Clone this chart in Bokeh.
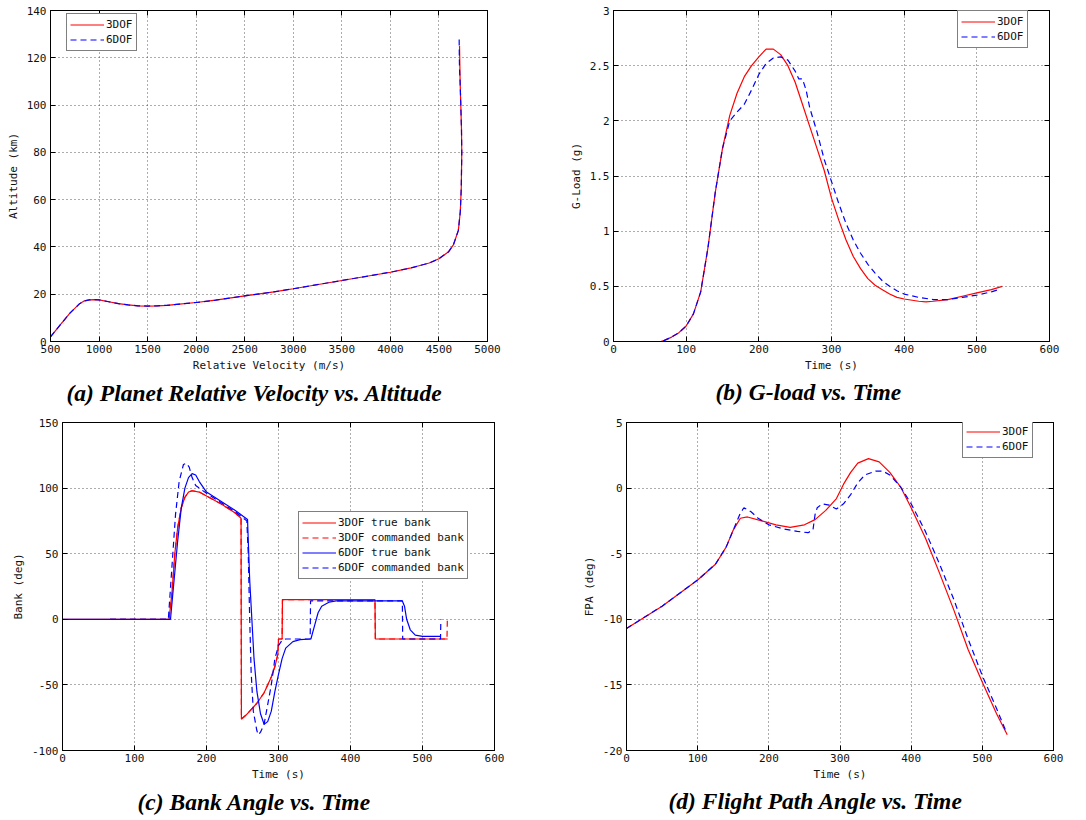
from bokeh.plotting import figure
from bokeh.models import Range1d, FixedTicker, LinearAxis, CustomJSTickFormatter
from bokeh.layouts import column, row
from bokeh.embed import file_html
from bokeh.resources import INLINE

# ---------------- data ----------------
# (a) Planet relative velocity vs altitude
vel_3dof = [500, 600, 700, 800, 850, 900, 950, 1000, 1100, 1200, 1300, 1400, 1500, 1600, 1700, 1800,
            2000, 2200, 2500, 2800, 3000, 3500, 4000, 4200, 4400, 4500, 4600, 4650, 4700, 4720, 4730,
            4735, 4732, 4725, 4718, 4712]
alt_3dof = [2, 7, 12, 16, 17.2, 17.6, 17.7, 17.6, 16.8, 16.0, 15.5, 15.1, 15.0, 15.1, 15.3, 15.7,
            16.5, 17.5, 19.3, 21.0, 22.3, 25.8, 29.3, 31.0, 33.2, 35.0, 38.0, 41.0, 47.0, 55.0, 65.0,
            80.0, 90.0, 100.0, 110.0, 125.0]
vel_6dof = [500, 600, 700, 800, 850, 900, 950, 1000, 1100, 1200, 1300, 1400, 1500, 1600, 1700, 1800,
            2000, 2200, 2500, 2800, 3000, 3500, 4000, 4200, 4400, 4500, 4600, 4650, 4700, 4720, 4730,
            4735, 4732, 4725, 4718, 4712, 4710, 4708]
alt_6dof = [2, 7, 12, 16, 17.2, 17.6, 17.7, 17.6, 16.8, 16.0, 15.5, 15.1, 15.0, 15.1, 15.3, 15.7,
            16.5, 17.5, 19.3, 21.0, 22.3, 25.8, 29.3, 31.0, 33.2, 35.0, 38.0, 41.0, 47.0, 55.0, 65.0,
            80.0, 90.0, 100.0, 110.0, 115.0, 120.0, 129.0]

# (b) G-load vs time
t_g3 = [0, 65, 70, 80, 90, 100, 110, 120, 130, 140, 150, 160, 170, 180, 190, 200, 210, 220, 230, 240,
        250, 260, 270, 280, 290, 300, 310, 320, 330, 340, 350, 360, 370, 380, 390, 400, 420, 430, 440,
        460, 480, 500, 520, 535]
g_3dof = [0, 0, 0.01, 0.04, 0.08, 0.14, 0.25, 0.45, 0.85, 1.35, 1.75, 2.05, 2.25, 2.4, 2.5, 2.58, 2.65,
          2.65, 2.6, 2.5, 2.35, 2.15, 1.95, 1.75, 1.55, 1.3, 1.1, 0.92, 0.77, 0.66, 0.57, 0.51, 0.47,
          0.43, 0.4, 0.385, 0.365, 0.36, 0.365, 0.38, 0.41, 0.44, 0.47, 0.5]
t_g6 = [0, 65, 70, 80, 90, 100, 110, 120, 130, 140, 150, 160, 170, 180, 190, 200, 210, 220, 230, 240,
        250, 255, 260, 265, 270, 280, 290, 300, 310, 320, 330, 340, 350, 360, 370, 380, 390, 400, 420,
        440, 460, 480, 500, 520, 530]
g_6dof = [0, 0, 0.01, 0.04, 0.08, 0.14, 0.25, 0.45, 0.85, 1.35, 1.75, 2.0, 2.08, 2.15, 2.28, 2.42, 2.52,
          2.57, 2.58, 2.55, 2.45, 2.38, 2.38, 2.28, 2.12, 1.9, 1.65, 1.45, 1.25, 1.07, 0.92, 0.8, 0.7,
          0.62, 0.55, 0.5, 0.46, 0.43, 0.4, 0.38, 0.38, 0.4, 0.42, 0.45, 0.47]

# (c) Bank angle vs time
t_b3_true = [0, 148, 152, 156, 160, 165, 170, 175, 180, 190, 200, 220, 240, 248, 248.5, 255, 260, 270,
             280, 290, 295, 299, 300, 305, 305.5, 434, 434.5, 535]
b_3dof_true = [0, 0, 20, 50, 70, 85, 93, 97, 98, 97, 94, 88, 81, 77, -76, -73, -70, -64, -56, -44, -36,
               -27, -15, -15, 15, 15, -15, -15]
t_b3_cmd = [66, 148, 152, 156, 160, 165, 170, 175, 180, 190, 200, 220, 240, 248, 248.5, 255, 260, 270,
            280, 290, 295, 299, 300, 305, 305.5, 434, 434.5, 534, 534.5]
b_3dof_cmd = [0, 0, 20, 50, 70, 85, 93, 97, 98, 97, 94, 88, 81, 77, -76, -73, -70, -64, -56, -44, -36,
              -27, -15, -15, 15, 15, -15, -15, 0]
t_b6_true = [0, 150, 155, 160, 165, 170, 175, 180, 185, 190, 200, 220, 240, 257, 258, 260, 263, 266,
             270, 275, 280, 285, 290, 295, 300, 305, 310, 320, 330, 345, 350, 355, 360, 370, 380, 472,
             475, 478, 483, 490, 500, 525]
b_6dof_true = [0, 0, 30, 60, 85, 100, 108, 111, 110, 105, 97, 90, 83, 76, 60, 30, 0, -30, -55, -72, -80,
               -78, -70, -55, -42, -30, -22, -17, -15.5, -15, -5, 5, 10, 13, 14, 14, 10, 0, -8, -12,
               -13, -13]
t_b6_cmd = [66, 147, 152, 157, 162, 168, 172, 176, 180, 185, 190, 200, 220, 240, 256, 258, 260, 262,
            265, 270, 272, 275, 280, 285, 290, 295, 300, 305, 310, 344, 344.5, 472, 472.5, 525, 525.5]
b_6dof_cmd = [0, 0, 40, 80, 105, 118, 119, 116, 108, 102, 100, 96, 89, 82, 75, 50, 0, -40, -70, -85, -88,
              -86, -80, -65, -50, -30, -20, -16, -15, -15, 14, 14, -15, -15, 0]

# (d) Flight path angle vs time
t_f3 = [0, 50, 100, 125, 140, 150, 160, 170, 190, 210, 230, 250, 265, 280, 295, 305, 315, 325, 340,
        355, 370, 385, 400, 420, 440, 460, 480, 500, 520, 535]
fpa_3dof = [-10.7, -9.0, -7.0, -5.8, -4.5, -3.2, -2.3, -2.2, -2.5, -2.8, -3.0, -2.8, -2.4, -1.7, -0.8,
            0.3, 1.2, 1.9, 2.25, 2.0, 1.2, 0.1, -1.5, -3.8, -6.5, -9.3, -12.3, -14.8, -17.2, -18.8]
t_f6 = [0, 50, 100, 125, 140, 150, 160, 165, 175, 185, 200, 220, 240, 255, 262, 265, 268, 275, 285,
        295, 305, 315, 325, 335, 350, 360, 370, 385, 400, 420, 440, 460, 480, 500, 520, 533]
fpa_6dof = [-10.7, -9.0, -7.0, -5.8, -4.5, -3.2, -1.9, -1.5, -1.8, -2.3, -2.8, -3.1, -3.3, -3.4, -3.2,
            -2.0, -1.5, -1.2, -1.3, -1.6, -1.2, -0.5, 0.4, 1.0, 1.3, 1.3, 1.0, 0.1, -1.2, -3.3, -5.8,
            -8.5, -11.5, -14.3, -16.8, -18.5]

# ticks
a_xticks = [500, 1000, 1500, 2000, 2500, 3000, 3500, 4000, 4500, 5000]
a_yticks = [0, 20, 40, 60, 80, 100, 120, 140]
t_ticks = [0, 100, 200, 300, 400, 500, 600]
b_yticks = [0, 0.5, 1, 1.5, 2, 2.5, 3]
b_ylabels = ["0", "0.5", "1", "1.5", "2", "2.5", "3"]
c_yticks = [-100, -50, 0, 50, 100, 150]
d_yticks = [-20, -15, -10, -5, 0, 5]

captions = ["(a) Planet Relative Velocity vs. Altitude", "(b) G-load vs. Time",
            "(c) Bank Angle vs. Time", "(d) Flight Path Angle vs. Time"]

RED = "red"
BLUE = "blue"
MONO = "DejaVu Sans Mono"


def make_fig(w, h, bl, br, bt, bb, xr, yr, xt, yt, xlab, ylab, cap, cap_off, cap_standoff, ylabels=None):
    p = figure(width=w, height=h, x_range=Range1d(*xr), y_range=Range1d(*yr),
               output_backend="svg", toolbar_location=None,
               min_border_left=bl, min_border_right=br, min_border_top=bt, min_border_bottom=bb,
               title=cap, title_location="below")
    p.outline_line_color = "black"
    p.outline_line_width = 1
    p.xaxis.ticker = FixedTicker(ticks=xt)
    p.yaxis.ticker = FixedTicker(ticks=yt)
    p.xaxis.major_label_overrides = {v: str(v) for v in xt}
    if ylabels is None:
        ylabels = [str(v) for v in yt]
    p.yaxis.major_label_overrides = {v: s for v, s in zip(yt, ylabels)}
    p.xaxis.axis_label = xlab
    p.yaxis.axis_label = ylab
    for ax in (p.xaxis[0], p.yaxis[0]):
        ax.major_tick_in = 5
        ax.major_tick_out = 0
        ax.minor_tick_in = 0
        ax.minor_tick_out = 0
        ax.axis_line_color = "black"
        ax.major_tick_line_color = "black"
        ax.major_label_text_font = MONO
        ax.major_label_text_font_size = "11px"
        ax.major_label_text_color = "#111111"
        ax.axis_label_text_font = MONO
        ax.axis_label_text_font_size = "11px"
        ax.axis_label_text_font_style = "normal"
        ax.axis_label_text_color = "#111111"
    p.xaxis.major_label_standoff = 3
    p.xaxis.axis_label_standoff = 3
    p.yaxis.major_label_standoff = 4
    p.yaxis.axis_label_standoff = 4
    # mirror axes (ticks only)
    for loc, tks in (("above", xt), ("right", yt)):
        ax = LinearAxis(ticker=FixedTicker(ticks=tks), formatter=CustomJSTickFormatter(code="return ''"),
                        major_tick_in=5, major_tick_out=0, minor_tick_in=0, minor_tick_out=0,
                        axis_line_color="black", major_label_standoff=0)
        p.add_layout(ax, loc)
    p.grid.grid_line_color = "#333333"
    p.grid.grid_line_dash = "1 3"
    p.grid.grid_line_alpha = 0.8
    p.title.text_font = "Liberation Serif"
    p.title.text_font_style = "bold italic"
    p.title.text_font_size = "23.5px"
    p.title.text_color = "black"
    p.title.align = "left"
    p.title.offset = cap_off
    p.title.standoff = cap_standoff
    return p


def style_legend(p, loc):
    lg = p.legend[0]
    lg.location = loc
    lg.border_line_color = "black"
    lg.border_line_width = 1
    lg.background_fill_color = "white"
    lg.background_fill_alpha = 1
    lg.label_text_font = MONO
    lg.label_text_font_size = "11px"
    lg.label_text_color = "#111111"
    lg.glyph_width = 34
    lg.glyph_height = 15
    lg.label_height = 15
    lg.label_standoff = 2
    lg.spacing = 0
    lg.padding = 3
    lg.margin = 0


# (a)
pa = make_fig(540, 408, 50, 53, 10, 66, (500, 5000), (0, 140), a_xticks, a_yticks,
              "Relative Velocity (m/s)", "Altitude (km)", captions[0], 16, 6)
pa.line(vel_3dof, alt_3dof, line_color=RED, line_width=1.2, legend_label="3DOF")
pa.line(vel_6dof, alt_6dof, line_color=BLUE, line_width=1.2, line_dash="6 4", legend_label="6DOF")
style_legend(pa, (16, 290))

# (b)
pb = make_fig(540, 408, 73, 31, 8, 65, (0, 600), (0, 3), t_ticks, b_yticks,
              "Time (s)", "G-Load (g)", captions[1], 102, 5, ylabels=b_ylabels)
pb.line(t_g3, g_3dof, line_color=RED, line_width=1.2, legend_label="3DOF")
pb.line(t_g6, g_6dof, line_color=BLUE, line_width=1.2, line_dash="6 4", legend_label="6DOF")
style_legend(pb, (344, 293))

# (c)
pc = make_fig(540, 410, 62, 46, 14, 67, (0, 600), (-100, 150), t_ticks, c_yticks,
              "Time (s)", "Bank (deg)", captions[2], 75, 7)
pc.line(t_b3_true, b_3dof_true, line_color=RED, line_width=1.2, legend_label="3DOF true bank")
pc.line(t_b3_cmd, b_3dof_cmd, line_color=RED, line_width=1.2, line_dash="6 4",
        legend_label="3DOF commanded bank")
pc.line(t_b6_true, b_6dof_true, line_color=BLUE, line_width=1.2, legend_label="6DOF true bank")
pc.line(t_b6_cmd, b_6dof_cmd, line_color=BLUE, line_width=1.2, line_dash="6 4",
        legend_label="6DOF commanded bank")
style_legend(pc, (236, 171))

# (d)
pd = make_fig(540, 410, 86, 27, 12, 64, (0, 600), (-20, 5), t_ticks, d_yticks,
              "Time (s)", "FPA (deg)", captions[3], 42, 4)
pd.line(t_f3, fpa_3dof, line_color=RED, line_width=1.2, legend_label="3DOF")
pd.line(t_f6, fpa_6dof, line_color=BLUE, line_width=1.2, line_dash="6 4", legend_label="6DOF")
style_legend(pd, (336, 292))

layout = column(row(pa, pb), row(pc, pd))
open("out.html", "w").write(file_html(layout, INLINE))
